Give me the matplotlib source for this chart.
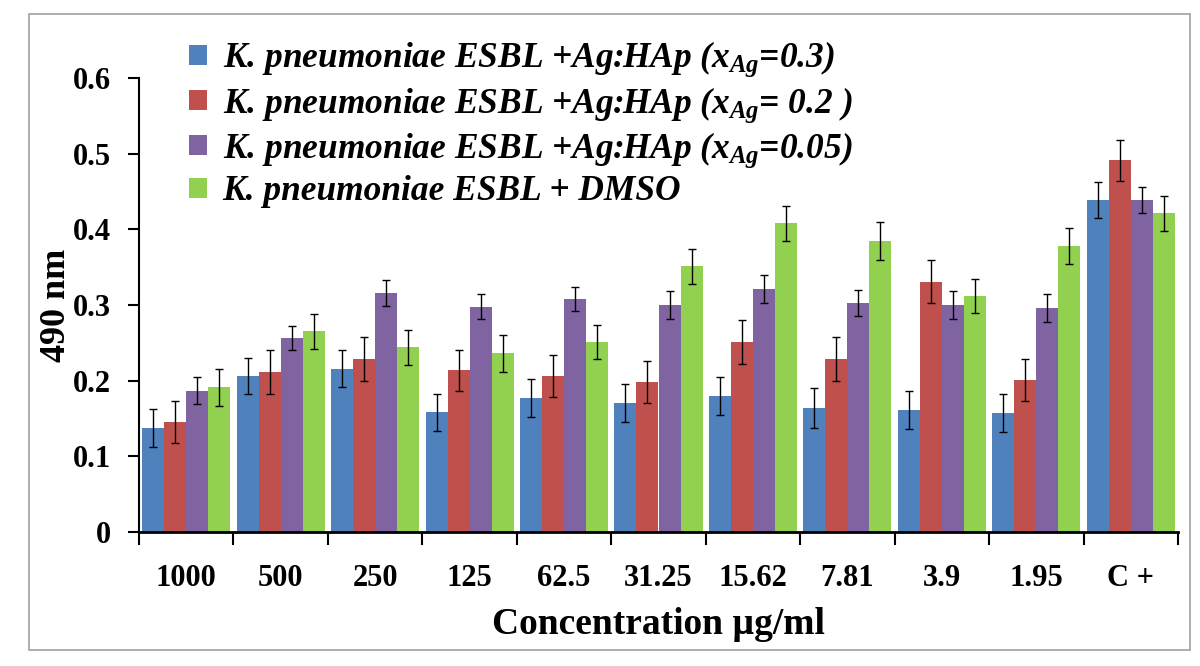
import numpy as np
import matplotlib
matplotlib.use('Agg')
import matplotlib.pyplot as plt
from matplotlib.patches import Rectangle

# Dados
categorias = ['1000', '500', '250', '125', '62.5', '31.25', '15.62', '7.81', '3.9', '1.95', 'C +']

ag03 = [0.137, 0.206, 0.216, 0.158, 0.177, 0.171, 0.180, 0.164, 0.161, 0.157, 0.439]
ag02 = [0.145, 0.211, 0.229, 0.214, 0.206, 0.198, 0.251, 0.229, 0.331, 0.201, 0.491]
ag005 = [0.187, 0.256, 0.316, 0.298, 0.308, 0.300, 0.321, 0.303, 0.300, 0.296, 0.439]
dmso = [0.191, 0.265, 0.244, 0.236, 0.251, 0.351, 0.408, 0.385, 0.312, 0.378, 0.421]

err03 = [0.025, 0.024, 0.025, 0.025, 0.025, 0.025, 0.025, 0.026, 0.025, 0.025, 0.024]
err02 = [0.028, 0.029, 0.029, 0.027, 0.028, 0.028, 0.029, 0.029, 0.028, 0.028, 0.027]
err005 = [0.018, 0.016, 0.017, 0.017, 0.016, 0.018, 0.018, 0.017, 0.018, 0.018, 0.017]
err_dmso = [0.024, 0.023, 0.023, 0.024, 0.023, 0.023, 0.023, 0.025, 0.023, 0.024, 0.023]

rotulos = [r'K. pneumoniae ESBL +Ag:HAp ($x_{Ag}$=0.3)',
           r'K. pneumoniae ESBL +Ag:HAp ($x_{Ag}$= 0.2 )',
           r'K. pneumoniae ESBL +Ag:HAp ($x_{Ag}$=0.05)',
           'K. pneumoniae ESBL + DMSO']
cores = ['#4F81BD', '#C0504D', '#8064A2', '#92D050']

plt.rcParams['font.family'] = 'Liberation Serif'
plt.rcParams['font.weight'] = 'bold'
plt.rcParams['mathtext.fontset'] = 'custom'
plt.rcParams['mathtext.it'] = 'Liberation Serif:italic:bold'
plt.rcParams['mathtext.rm'] = 'Liberation Serif:italic:bold'

fig = plt.figure(figsize=(12, 6.66), dpi=100)
fig.patches.append(Rectangle((29 / 1200, 1 - 650 / 666), 1161 / 1200, 636 / 666,
                             transform=fig.transFigure, fill=False,
                             edgecolor='#A0A0A0', lw=1.2))
ax = fig.add_axes([0.1158, 0.2012, 0.8659, 0.6817])

x = np.arange(len(categorias))
w = 0.233
series = [ag03, ag02, ag005, dmso]
erros = [err03, err02, err005, err_dmso]
for i, (vals, err) in enumerate(zip(series, erros)):
    ax.bar(x + (i - 1.5) * w, vals, width=w, color=cores[i], label=rotulos[i],
           yerr=err, capsize=3, error_kw=dict(ecolor='black', elinewidth=1, capthick=1))

ax.set_xlim(-0.5, len(categorias) - 0.5)
ax.set_ylim(0, 0.6)
ax.set_yticks(np.arange(0, 0.61, 0.1))
ax.set_yticklabels(['0', '0.1', '0.2', '0.3', '0.4', '0.5', '0.6'])
ax.set_xticks(x)
ax.set_xticklabels(categorias)
ax.set_xticks(np.arange(-0.5, len(categorias), 1), minor=True)
ax.tick_params(axis='x', which='major', length=0, pad=23, labelsize=22)
ax.tick_params(axis='x', which='minor', length=9, width=1.5, direction='out')
ax.tick_params(axis='y', length=8, width=1.5, labelsize=22, pad=12)
for s in ['top', 'right']:
    ax.spines[s].set_visible(False)
ax.spines['left'].set_linewidth(1.5)
ax.spines['bottom'].set_linewidth(2)

ax.set_xlabel('Concentration µg/ml', fontsize=27, fontweight='bold', labelpad=10)
ax.set_ylabel('490 nm', fontsize=26, fontweight='bold', labelpad=0)

fig.legend(loc='upper left', bbox_to_anchor=(0.131, 0.988), frameon=False,
           prop={'family': 'Liberation Serif', 'style': 'italic', 'weight': 'bold', 'size': 25.5},
           handlelength=0.5, handleheight=0.5, handletextpad=0.45, labelspacing=0.16)

plt.savefig('out.png', dpi=100)
